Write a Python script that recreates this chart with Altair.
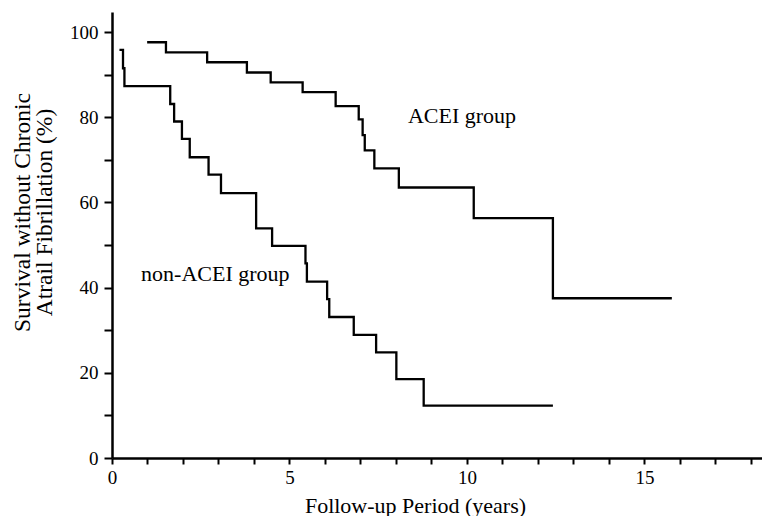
import altair as alt
import pandas as pd

# ACEI group (Kaplan-Meier step points: time in years, survival %)
acei_t = [0.99, 1.52, 2.68, 3.80, 4.47, 5.37, 6.30, 6.95, 7.06, 7.12, 7.39, 8.08, 10.19, 12.42, 15.77]
acei_s = [97.6, 95.2, 92.9, 90.5, 88.2, 85.9, 82.6, 79.5, 75.8, 72.2, 68.0, 63.5, 56.3, 37.5, 37.5]

# non-ACEI group
non_t = [0.21, 0.31, 0.35, 1.64, 1.75, 1.97, 2.19, 2.72, 3.07, 4.06, 4.51, 5.45, 5.49, 6.06, 6.12,
         6.81, 7.44, 8.01, 8.78, 12.42]
non_s = [95.8, 91.5, 87.3, 83.1, 79.0, 74.9, 70.6, 66.5, 62.2, 53.9, 49.8, 45.7, 41.4, 37.3, 33.1,
         28.9, 24.8, 18.5, 12.3, 12.3]

label_text = ["ACEI group", "non-ACEI group"]
label_x = [9.86, 2.91]
label_y = [80.3, 43.2]

x_ticks = list(range(0, 19))
y_ticks = list(range(0, 101, 10))

FONT = "Liberation Serif"

df = pd.concat([
    pd.DataFrame({"t": acei_t, "s": acei_s, "g": "ACEI"}),
    pd.DataFrame({"t": non_t, "s": non_s, "g": "non-ACEI"}),
])
lab = pd.DataFrame({"text": label_text, "x": label_x, "y": label_y})

xscale = alt.Scale(domain=[0, 18.31], nice=False, zero=False)
yscale = alt.Scale(domain=[0, 104.7], nice=False, zero=False)

xaxis = alt.Axis(
    title="Follow-up Period (years)", values=x_ticks,
    labelExpr="datum.value % 5 == 0 ? datum.label : ''",
    labelOverlap=False, labelFlush=False,
    tickSize=6, labelPadding=4,
    titleX=303, titleY=54, titleBaseline="alphabetic",
)
yaxis = alt.Axis(
    title=["Survival without Chronic", "Atrail Fibrillation (%)"], values=y_ticks,
    labelExpr="datum.value % 20 == 0 ? datum.label : ''",
    labelOverlap=False, labelFlush=False,
    tickSize=8, labelPadding=6, titleX=-78, titleY=200, titleLineHeight=22,
    titleFontSize=23.5,
)

lines = alt.Chart(df).mark_line(interpolate="step-after", color="black", strokeWidth=2.3).encode(
    x=alt.X("t:Q", scale=xscale, axis=xaxis),
    y=alt.Y("s:Q", scale=yscale, axis=yaxis),
    detail="g:N",
)

texts = alt.Chart(lab).mark_text(font=FONT, fontSize=22, color="black").encode(
    x=alt.X("x:Q", scale=xscale, axis=xaxis),
    y=alt.Y("y:Q", scale=yscale, axis=yaxis),
    text="text:N",
)

chart = (lines + texts).properties(
    width=650, height=446,
    autosize=alt.AutoSizeParams(type="none"),
    padding={"left": 104, "top": 4, "right": 0, "bottom": 58},
).configure_view(stroke=None).configure_axis(
    grid=False, labelOverlap=False,
    domainColor="black", domainWidth=2.5,
    tickColor="black", tickWidth=2,
    labelFont=FONT, labelFontSize=19, labelColor="black",
    titleFont=FONT, titleFontSize=22, titleFontWeight="normal", titleColor="black",
)

chart.save("out.html", embed_options={"renderer": "svg", "actions": False})
